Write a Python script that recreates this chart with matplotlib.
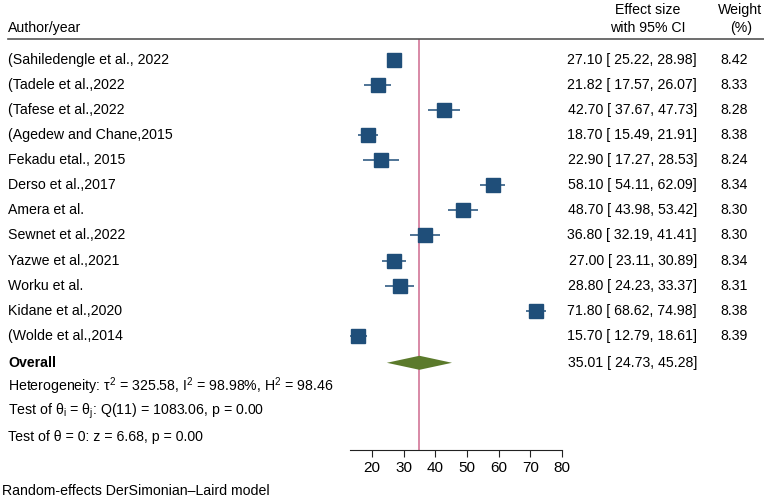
import numpy as np
import matplotlib
matplotlib.use("Agg")
import matplotlib.pyplot as plt
import matplotlib.transforms as mtransforms

plt.rcParams['font.family'] = ['Liberation Sans', 'DejaVu Sans']
plt.rcParams['mathtext.fontset'] = 'custom'
plt.rcParams['mathtext.rm'] = 'Liberation Sans'
plt.rcParams['mathtext.it'] = 'Liberation Sans:italic'
plt.rcParams['mathtext.bf'] = 'Liberation Sans:bold'

# ===== data =====
studies = ["(Sahiledengle et al., 2022", "(Tadele et al.,2022", "(Tafese et al.,2022",
           "(Agedew and Chane,2015", "Fekadu etal., 2015", "Derso et al.,2017",
           "Amera et al.", "Sewnet et al.,2022", "Yazwe et al.,2021", "Worku et al.",
           "Kidane et al.,2020", "(Wolde et al.,2014"]
effect = [27.10, 21.82, 42.70, 18.70, 22.90, 58.10, 48.70, 36.80, 27.00, 28.80, 71.80, 15.70]
ci_low = [25.22, 17.57, 37.67, 15.49, 17.27, 54.11, 43.98, 32.19, 23.11, 24.23, 68.62, 12.79]
ci_high = [28.98, 26.07, 47.73, 21.91, 28.53, 62.09, 53.42, 41.41, 30.89, 33.37, 74.98, 18.61]
weight = [8.42, 8.33, 8.28, 8.38, 8.24, 8.34, 8.30, 8.30, 8.34, 8.31, 8.38, 8.39]

overall = 35.01
overall_low = 24.73
overall_high = 45.28

xticks = [20, 30, 40, 50, 60, 70, 80]

# ===== figure =====
W, H = 764, 499
fig = plt.figure(figsize=(W / 100, H / 100), dpi=100)
# plot panel: x pixels 350..562, y pixels 39..450
ax = fig.add_axes([350 / W, 1 - 450 / H, (562 - 350) / W, (450 - 39) / H])
ax.set_xlim(13.1, 80)
ax.set_ylim(15.56, -0.84)

n = len(studies)
rows = np.arange(n)
y_overall = n + 0.08
y_het = n + 1.0
y_q = n + 2.0
y_z = n + 3.04

blue = '#1f4e79'
ax.hlines(rows, ci_low, ci_high, color=blue, lw=1.1, zorder=2)
for i in range(n):
    ms = 10.6 * np.sqrt(weight[i] / np.mean(weight))
    ax.plot(effect[i], rows[i], 's', color=blue, ms=ms, zorder=3)

ax.axvline(overall, color='#d6809f', lw=1.3, zorder=1)
ax.fill([overall_low, overall, overall_high, overall],
        [y_overall, y_overall - 0.28, y_overall, y_overall + 0.28],
        color='#5b7a2b', zorder=3, lw=0)

for s in ['top', 'right', 'left']:
    ax.spines[s].set_visible(False)
ax.spines['bottom'].set_color('#222222')
ax.set_yticks([])
ax.set_xticks(xticks)
ax.tick_params(axis='x', length=5, color='#222222', labelsize=11, pad=3)

# text columns (x in figure fraction, y in data rows)
tr = mtransforms.blended_transform_factory(fig.transFigure, ax.transData)
fs = 10.2
for i in range(n):
    ax.text(8 / W, rows[i], studies[i], transform=tr, fontsize=fs, va='center', ha='left')
    ax.text(697 / W, rows[i], f"{effect[i]:.2f} [ {ci_low[i]:.2f}, {ci_high[i]:.2f}]",
            transform=tr, fontsize=fs, va='center', ha='right')
    ax.text(748 / W, rows[i], f"{weight[i]:.2f}", transform=tr, fontsize=fs, va='center', ha='right')

ax.text(8 / W, y_overall, "Overall", transform=tr, fontsize=fs, va='center', ha='left', fontweight='bold')
ax.text(697 / W, y_overall, f"{overall:.2f} [ {overall_low:.2f}, {overall_high:.2f}]",
        transform=tr, fontsize=fs, va='center', ha='right')
ax.text(8 / W, y_het, "Heterogeneity: τ$^\\mathregular{2}$ = 325.58, I$^\\mathregular{2}$ = 98.98%, H$^\\mathregular{2}$ = 98.46",
        transform=tr, fontsize=fs, va='center', ha='left')
ax.text(8 / W, y_q, "Test of θ$_\\mathregular{i}$ = θ$_\\mathregular{j}$: Q(11) = 1083.06, p = 0.00",
        transform=tr, fontsize=fs, va='center', ha='left')
ax.text(8 / W, y_z, "Test of θ = 0: z = 6.68, p = 0.00",
        transform=tr, fontsize=fs, va='center', ha='left')

# header
fig.text(8 / W, 1 - 28 / H, "Author/year", fontsize=fs, va='center', ha='left')
fig.text(648 / W, 1 - 10 / H, "Effect size", fontsize=fs, va='center', ha='center')
fig.text(648 / W, 1 - 28 / H, "with 95% CI", fontsize=fs, va='center', ha='center')
fig.text(740 / W, 1 - 10 / H, "Weight", fontsize=fs, va='center', ha='center')
fig.text(741 / W, 1 - 28 / H, "(%)", fontsize=fs, va='center', ha='center')
fig.add_artist(plt.Line2D([8 / W, 1], [1 - 39 / H, 1 - 39 / H], color='#555555', lw=1.2,
                          transform=fig.transFigure))

fig.text(2 / W, 1 - 491 / H, "Random-effects DerSimonian\u2013Laird model", fontsize=fs,
         va='center', ha='left')

fig.savefig("out.png", dpi=100)
